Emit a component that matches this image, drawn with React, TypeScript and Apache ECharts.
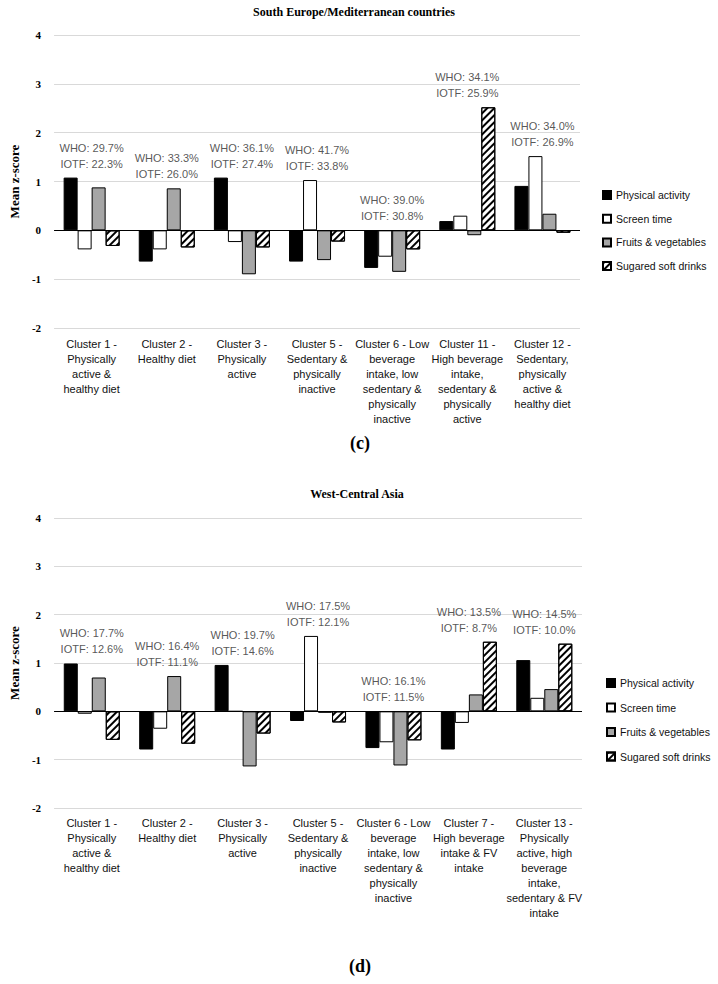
import React, { useEffect, useRef } from "react";
import * as echarts from "echarts";

// ---- Data: panel (c) South Europe/Mediterranean countries ----
const categoriesC = [
  "Cluster 1 -\nPhysically\nactive &\nhealthy diet",
  "Cluster 2 -\nHealthy diet",
  "Cluster 3 -\nPhysically\nactive",
  "Cluster 5 -\nSedentary &\nphysically\ninactive",
  "Cluster 6 - Low\nbeverage\nintake, low\nsedentary &\nphysically\ninactive",
  "Cluster 11 -\nHigh beverage\nintake,\nsedentary &\nphysically\nactive",
  "Cluster 12 -\nSedentary,\nphysically\nactive &\nhealthy diet",
];
const physicalC = [1.08, -0.64, 1.08, -0.64, -0.77, 0.19, 0.91];
const screenC = [-0.39, -0.39, -0.24, 1.03, -0.54, 0.3, 1.52];
const fruitsC = [0.88, 0.86, -0.9, -0.61, -0.85, -0.1, 0.34];
const sugaredC = [-0.32, -0.35, -0.35, -0.23, -0.39, 2.52, -0.05];
const whoC = ["29.7%", "33.3%", "36.1%", "41.7%", "39.0%", "34.1%", "34.0%"];
const iotfC = ["22.3%", "26.0%", "27.4%", "33.8%", "30.8%", "25.9%", "26.9%"];

// ---- Data: panel (d) West-Central Asia ----
const categoriesD = [
  "Cluster 1 -\nPhysically\nactive &\nhealthy diet",
  "Cluster 2 -\nHealthy diet",
  "Cluster 3 -\nPhysically\nactive",
  "Cluster 5 -\nSedentary &\nphysically\ninactive",
  "Cluster 6 - Low\nbeverage\nintake, low\nsedentary &\nphysically\ninactive",
  "Cluster 7 -\nHigh beverage\nintake & FV\nintake",
  "Cluster 13 -\nPhysically\nactive, high\nbeverage\nintake,\nsedentary & FV\nintake",
];
const physicalD = [0.99, -0.79, 0.96, -0.2, -0.76, -0.79, 1.06];
const screenD = [-0.05, -0.36, 0, 1.56, -0.64, -0.24, 0.28];
const fruitsD = [0.7, 0.73, -1.14, -0.03, -1.12, 0.35, 0.46];
const sugaredD = [-0.59, -0.67, -0.46, -0.23, -0.6, 1.44, 1.4];
const whoD = ["17.7%", "16.4%", "19.7%", "17.5%", "16.1%", "13.5%", "14.5%"];
const iotfD = ["12.6%", "11.1%", "14.6%", "12.1%", "11.5%", "8.7%", "10.0%"];

const seriesNames = ["Physical activity", "Screen time", "Fruits & vegetables", "Sugared soft drinks"];
const yTicks = { min: -2, max: 4, interval: 1 };

const SERIF = "'Liberation Serif', 'DejaVu Serif', serif";
const SANS = "'Liberation Sans', Arial, sans-serif";
const NARROW = "'Liberation Sans Narrow', 'Liberation Sans', Arial, sans-serif";

const hatch = {
  symbol: "rect",
  symbolSize: 1,
  color: "#000",
  backgroundColor: "#fff",
  dashArrayX: [1, 0],
  dashArrayY: [2, 3],
  rotation: -Math.PI / 4,
};

const styles = [
  { color: "#000000", borderColor: "#000", borderWidth: 1 },
  { color: "#ffffff", borderColor: "#000", borderWidth: 1 },
  { color: "#a6a6a6", borderColor: "#000", borderWidth: 1 },
  { color: "#ffffff", borderColor: "#000", borderWidth: 1, decal: hatch },
];

function buildPanel(idx: number, cats: string[], vals: number[][], who: string[], iotf: string[]) {
  const bars = vals.map((v, k) => ({
    name: seriesNames[k],
    type: "bar",
    xAxisIndex: idx,
    yAxisIndex: idx,
    data: v,
    barWidth: 14,
    barGap: "0%",
    itemStyle: styles[k],
    z: 3,
    ...(k === 0
      ? {
          markLine: {
            silent: true,
            symbol: "none",
            label: { show: false },
            lineStyle: { color: "#000", width: 1, type: "solid" },
            data: [{ yAxis: 0 }],
            z: 5,
          },
        }
      : {}),
  }));
  const annot = {
    type: "scatter",
    xAxisIndex: idx,
    yAxisIndex: idx,
    symbolSize: 0,
    silent: true,
    z: 6,
    data: cats.map((_, i) => [i, Math.max(0, ...vals.map((v) => v[i]))]),
    label: {
      show: true,
      position: "top",
      distance: 6,
      fontFamily: SANS,
      fontSize: 11,
      lineHeight: 16,
      color: "#2b2b2b",
      formatter: (p: any) => `WHO: ${who[p.dataIndex]}\nIOTF: ${iotf[p.dataIndex]}`,
    },
  };
  return [...bars, annot];
}

function axisX(idx: number, cats: string[], margin: number) {
  return {
    type: "category",
    gridIndex: idx,
    data: cats,
    axisLine: { show: false, onZero: false },
    axisTick: { show: false },
    axisLabel: {
      interval: 0,
      margin,
      fontFamily: NARROW,
      fontSize: 11,
      lineHeight: 15,
      color: "#111",
    },
  };
}

function axisY(idx: number) {
  return {
    type: "value",
    gridIndex: idx,
    ...yTicks,
    axisLine: { show: false },
    axisTick: { show: false },
    splitLine: { lineStyle: { color: "#d9d9d9", width: 1 } },
    axisLabel: { fontFamily: SERIF, fontWeight: "bold", fontSize: 11, color: "#000", margin: 13 },
    name: "Mean z-score",
    nameLocation: "middle",
    nameRotate: 90,
    nameGap: 24,
    nameTextStyle: { fontFamily: SERIF, fontWeight: "bold", fontSize: 13, color: "#000" },
  };
}

function legend(left: number, top: number, gap: number) {
  return {
    orient: "vertical",
    left,
    top,
    itemWidth: 8,
    itemHeight: 8,
    itemGap: gap,
    icon: "rect",
    data: seriesNames,
    selectedMode: false,
    textStyle: { fontFamily: NARROW, fontSize: 10.5, color: "#111", lineHeight: 12 },
  };
}

export default function App() {
  const ref = useRef<HTMLDivElement>(null);
  useEffect(() => {
    if (!ref.current) return;
    const chart = echarts.init(ref.current, undefined, { renderer: "svg" });
    chart.setOption({
      animation: false,
      backgroundColor: "#ffffff",
      grid: [
        { left: 42, right: 138, top: 35, height: 293 },
        { left: 42, right: 136, top: 518, height: 290 },
      ],
      xAxis: [axisX(0, categoriesC, 8), axisX(1, categoriesD, 7)],
      yAxis: [axisY(0), axisY(1)],
      legend: [legend(597, 184, 11.7), legend(601, 672, 12.5)],
      series: [
        ...buildPanel(0, categoriesC, [physicalC, screenC, fruitsC, sugaredC], whoC, iotfC),
        ...buildPanel(1, categoriesD, [physicalD, screenD, fruitsD, sugaredD], whoD, iotfD),
      ],
      graphic: [
        {
          type: "text",
          x: 354,
          y: 12,
          style: {
            text: "South Europe/Mediterranean countries",
            font: `bold 12px ${SERIF}`,
            fill: "#000",
            textAlign: "center",
            textVerticalAlign: "middle",
          },
        },
        {
          type: "text",
          x: 360,
          y: 443,
          style: { text: "(c)", font: `bold 18px ${SERIF}`, fill: "#000", textAlign: "center", textVerticalAlign: "middle" },
        },
        {
          type: "text",
          x: 357,
          y: 494,
          style: {
            text: "West-Central Asia",
            font: `bold 12px ${SERIF}`,
            fill: "#000",
            textAlign: "center",
            textVerticalAlign: "middle",
          },
        },
        {
          type: "text",
          x: 360,
          y: 966,
          style: { text: "(d)", font: `bold 18px ${SERIF}`, fill: "#000", textAlign: "center", textVerticalAlign: "middle" },
        },
      ],
    });
    return () => chart.dispose();
  }, []);
  return <div ref={ref} style={{ position: "absolute", left: 0, top: 0, width: 718, height: 984 }} />;
}
